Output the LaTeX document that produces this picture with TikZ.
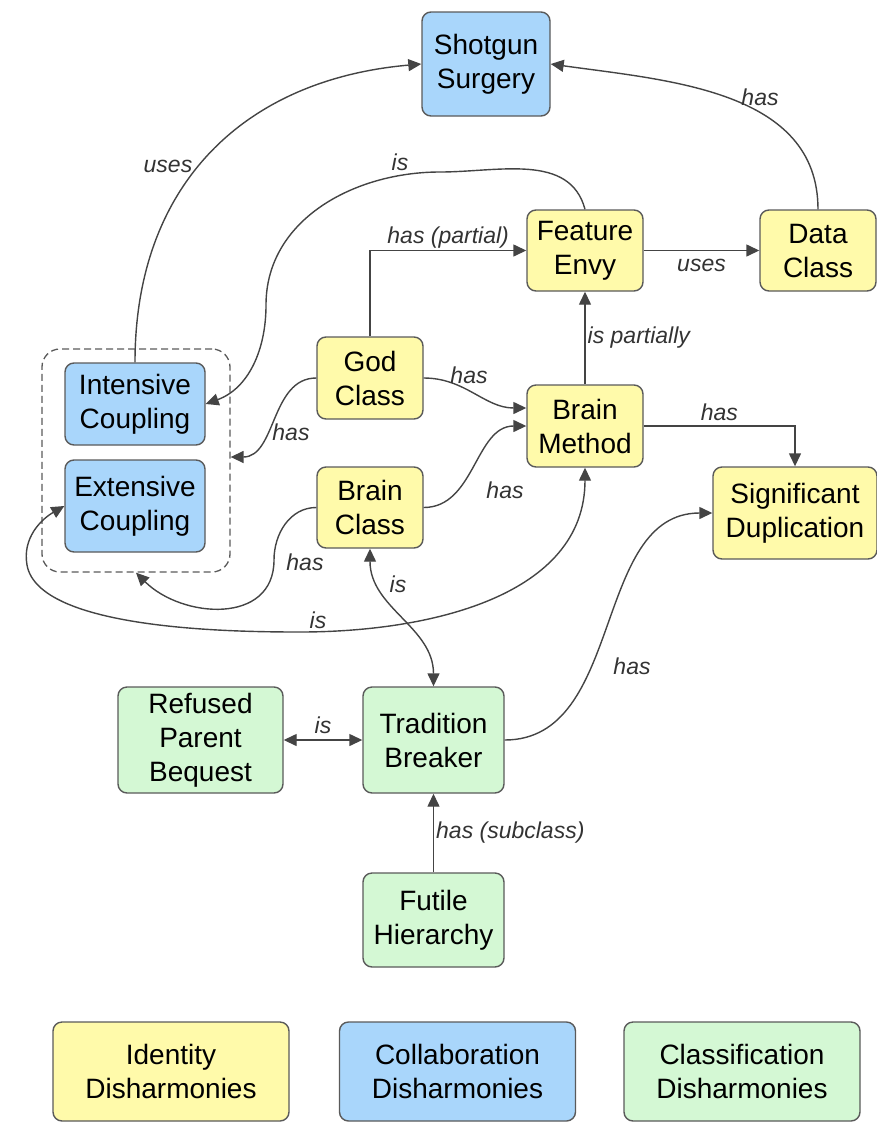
\documentclass[tikz,border=0pt]{standalone}
\usepackage{fontspec}
\setmainfont{Liberation Sans}
\usepackage{tikz}
\usetikzlibrary{arrows.meta}

\definecolor{fill_identity}{HTML}{FFFAAA}
\definecolor{fill_collab}{HTML}{A9D6FB}
\definecolor{fill_classif}{HTML}{D4F8D4}
\definecolor{boxline}{HTML}{5A5A5A}
\definecolor{edgeline}{HTML}{444444}
\definecolor{labeltext}{HTML}{333333}

\begin{document}
\begin{tikzpicture}[x=1pt, y=1pt]

\tikzstyle{box} = [draw=boxline, line width=1.4pt, rounded corners=9pt, align=center, inner sep=0pt, font=\fontsize{28}{34}\selectfont]
\tikzstyle{box_identity} = [box, fill=fill_identity]
\tikzstyle{box_collab} = [box, fill=fill_collab]
\tikzstyle{box_classif} = [box, fill=fill_classif]
\tikzstyle{group} = [draw=boxline, line width=1.3pt, dash pattern=on 7pt off 4pt, rounded corners=18pt]
\tikzstyle{edge} = [-{Triangle[length=13pt,width=12pt]}, line width=1.4pt, draw=edgeline]
\tikzstyle{edge_both} = [{Triangle[length=13pt,width=12pt]}-{Triangle[length=13pt,width=12pt]}, line width=1.4pt, draw=edgeline]
\tikzstyle{lbl} = [font=\fontsize{23}{26}\selectfont\itshape, text=labeltext, inner sep=2pt]

\useasboundingbox (0,0) rectangle (877,-1122);

%------------------------------------------------------------
	\node[box_collab, minimum width=128, minimum height=104] (shot) at (486,-64) {Shotgun\\Surgery};
	\node[box_identity, minimum width=116, minimum height=81] (feat) at (585,-250.5) {Feature\\Envy};
	\node[box_identity, minimum width=116, minimum height=81] (data) at (818,-250.5) {Data\\Class};
	\node[box_identity, minimum width=106, minimum height=82] (god) at (370,-378) {God\\Class};
	\node[box_identity, minimum width=106, minimum height=81] (bcls) at (370,-507.5) {Brain\\Class};
	\node[box_identity, minimum width=116, minimum height=82] (bmeth) at (585,-426) {Brain\\Method};
	\node[box_identity, minimum width=164, minimum height=92] (sig) at (795,-513) {Significant\\Duplication};

%------------------------------------------------------------
	\node[group, minimum width=188, minimum height=223] (grp) at (136,-460.5) {};
	\node[box_collab, minimum width=140, minimum height=82] (intc) at (135,-404) {Intensive\\Coupling};
	\node[box_collab, minimum width=140, minimum height=92] (extc) at (135,-506) {Extensive\\Coupling};

%------------------------------------------------------------
	\node[box_classif, minimum width=165, minimum height=106] (rpb) at (200.5,-740) {Refused\\Parent\\Bequest};
	\node[box_classif, minimum width=141, minimum height=106] (tb) at (433.5,-740) {Tradition\\Breaker};
	\node[box_classif, minimum width=141, minimum height=94] (fh) at (433.5,-920) {Futile\\Hierarchy};

%------------------------------------------------------------
	\node[box_identity, minimum width=236, minimum height=99] (leg_identity) at (171,-1071.5) {Identity\\Disharmonies};
	\node[box_collab, minimum width=236, minimum height=99] (leg_collab) at (457.5,-1071.5) {Collaboration\\Disharmonies};
	\node[box_classif, minimum width=236, minimum height=99] (leg_classif) at (742,-1071.5) {Classification\\Disharmonies};

%------------------------------------------------------------
	\draw[edge] (intc.north) to[out=90, in=185, looseness=1.1] (shot.west);
	\node[lbl] (l_uses_shot) at (168,-166) {uses};

	\draw[edge] (data.north) to[out=90, in=-8] (shot.east);
	\node[lbl] (l_has_shot) at (760,-97) {has};

	\draw[edge] (feat.north) to[out=105, in=0] (440,-172) to[out=180, in=90] (266,-305) to[out=-90, in=20] (intc.east);
	\node[lbl] (l_is_feat) at (400,-162) {is};

	\draw[edge] (god.north) |- node[lbl, pos=0.75, above] {has (partial)} (feat.west);
	\draw[edge] (feat.east) -- node[lbl, below=6pt] {uses} (data.west);
	\draw[edge] (bmeth.north) -- node[lbl, right] {is partially} (feat.south);

	\draw[edge] (god.east) to[out=0, in=180] ([yshift=18pt]bmeth.west);
	\node[lbl] (l_has_god_bm) at (469,-375) {has};

	\draw[edge] (bcls.east) to[out=0, in=180] (bmeth.west);
	\node[lbl] (l_has_bc_bm) at (505,-490) {has};

	\draw[edge] (god.west) to[out=180, in=0] ([yshift=3.5pt]grp.east);
	\node[lbl] (l_has_god_grp) at (291,-432) {has};

	\draw[edge] (bcls.west) to[out=180, in=90] (274,-560) to[out=-90, in=-45, looseness=1.2] (grp.south);
	\node[lbl] (l_has_bc_grp) at (305,-562) {has};

	\draw[edge_both] (bmeth.south) to[out=-90, in=0] (300,-632) to[out=180, in=-80, looseness=0.6] (27,-565) to[out=100, in=210] (extc.west);
	\node[lbl] (l_is_bm_ext) at (318,-620) {is};

	\draw[edge_both] (bcls.south) to[out=-90, in=90] (tb.north);
	\node[lbl] (l_is_bc_tb) at (398,-584) {is};

	\draw[edge] (bmeth.east) -| node[lbl, pos=0.25, above=3pt] {has} (sig.north);

	\draw[edge] (tb.east) to[out=0, in=180] (sig.west);
	\node[lbl] (l_has_tb_sig) at (632,-666) {has};

	\draw[edge_both] (rpb.east) -- node[lbl, above=4pt] {is} (tb.west);
	\draw[edge] (fh.north) -- node[lbl, right] {has (subclass)} (tb.south);

\end{tikzpicture}
\end{document}
